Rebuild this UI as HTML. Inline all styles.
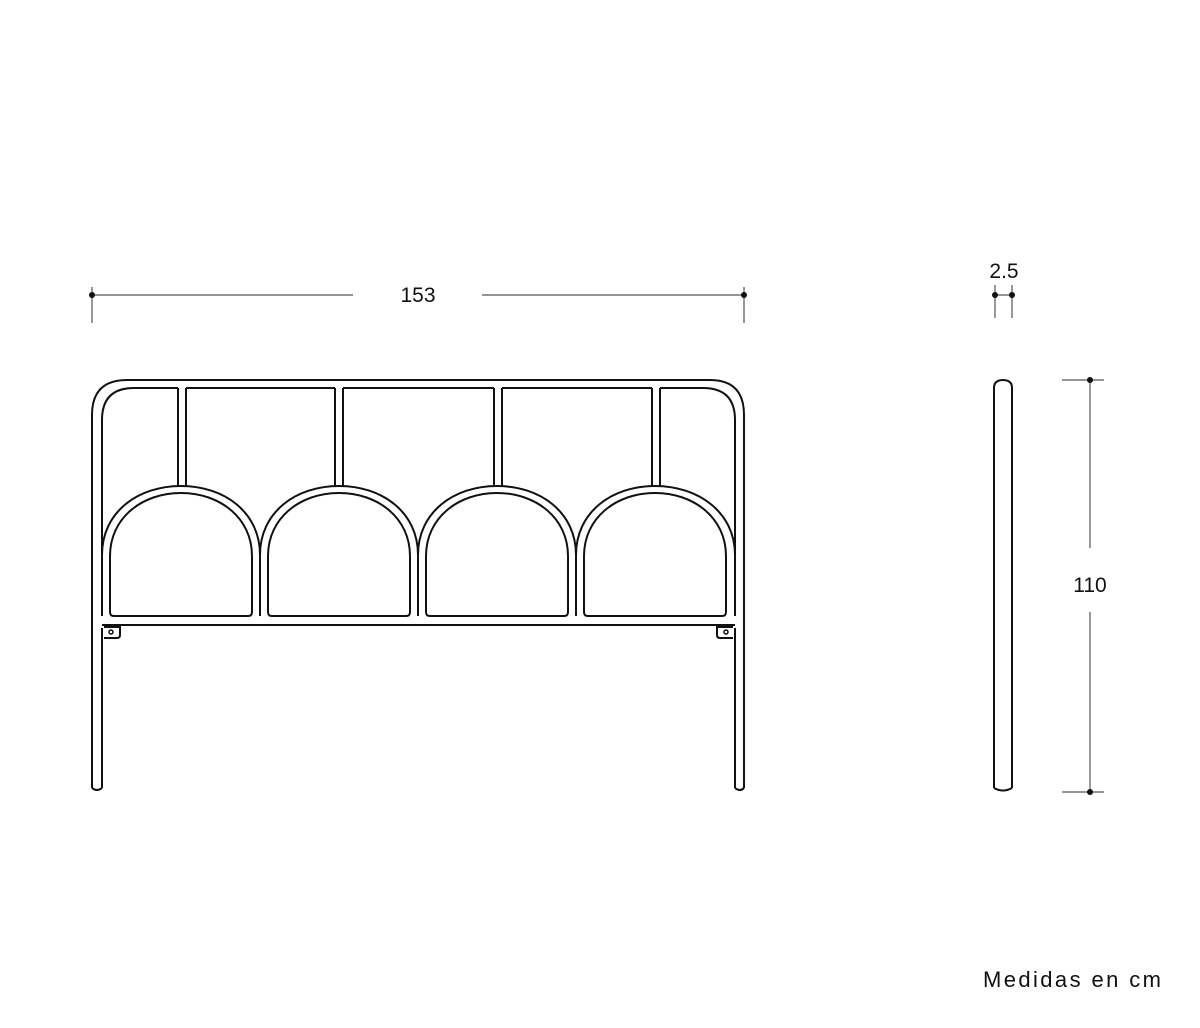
<!DOCTYPE html>
<html><head><style>
html,body{margin:0;padding:0;background:#fff;}
svg{display:block}
text{font-family:"Liberation Sans",sans-serif;fill:#111}
</style></head><body>
<svg width="1200" height="1028" viewBox="0 0 1200 1028" xmlns="http://www.w3.org/2000/svg">
<g fill="none" stroke="#111" stroke-width="2">
<path d="M92,788 L92,415 Q92,380 127,380 L710,380 Q744,380 744,415 L744,788"/>
<path d="M102,616 L102,420 Q102,388 134,388 L178,388"/>
<path d="M186,388 L335,388"/>
<path d="M343,388 L494,388"/>
<path d="M502,388 L652,388"/>
<path d="M660,388 L703,388 Q735,388 735,420 L735,616"/>
<path d="M178,388 L178,487 M186,388 L186,487"/>
<path d="M335,388 L335,487 M343,388 L343,487"/>
<path d="M494,388 L494,487 M502,388 L502,487"/>
<path d="M652,388 L652,487 M660,388 L660,487"/>
<path d="M102,555 C102,512 138,486 181,486 C224,486 260,512 260,555 L260,616"/>
<path d="M260,616 L260,555 C260,512 296,486 339,486 C382,486 418,512 418,555 L418,616"/>
<path d="M418,616 L418,555 C418,512 454,486 497,486 C540,486 576,512 576,555 L576,616"/>
<path d="M576,616 L576,555 C576,512 612,486 655,486 C698,486 735,512 735,555"/>
<path d="M110,612 L110,556 C110,518 142,493 181,493 C220,493 252,518 252,556 L252,612 Q252,616 248,616 L114,616 Q110,616 110,612 Z"/>
<path d="M268,612 L268,556 C268,518 300,493 339,493 C378,493 410,518 410,556 L410,612 Q410,616 406,616 L272,616 Q268,616 268,612 Z"/>
<path d="M426,612 L426,556 C426,518 458,493 497,493 C536,493 568,518 568,556 L568,612 Q568,616 564,616 L430,616 Q426,616 426,612 Z"/>
<path d="M584,612 L584,556 C584,518 616,493 655,493 C694,493 726,518 726,556 L726,612 Q726,616 722,616 L588,616 Q584,616 584,612 Z"/>
<path d="M102,625 L735,625"/>
<path d="M102,628 L102,788"/>
<path d="M735,628 L735,788"/>
<path d="M92,788 Q97,792 102,788"/>
<path d="M735,788 Q740,792 744,788"/>
<path d="M104,627 L120,627 L120,635 Q120,638 117,638 L104,638"/>
<path d="M733,627 L717,627 L717,635 Q717,638 720,638 L733,638"/>
<path d="M994,788 L994,388 Q994,380 1003,380 Q1012,380 1012,388 L1012,788"/>
<path d="M994,788 Q1003,793 1012,788"/>
</g>
<circle cx="111" cy="632" r="2" fill="none" stroke="#111" stroke-width="1.5"/>
<circle cx="726" cy="632" r="2" fill="none" stroke="#111" stroke-width="1.5"/>
<g stroke="#555" stroke-width="1.2" fill="none">
<path d="M92,295 L353,295 M482,295 L744,295 M92,287 L92,323 M744,287 L744,323"/>
<path d="M995,295 L1012,295 M995,285 L995,318 M1012,285 L1012,318"/>
<path d="M1062,380 L1104,380 M1062,792 L1104,792 M1090,380 L1090,548 M1090,612 L1090,792"/>
</g>
<g fill="#111">
<circle cx="92" cy="295" r="3"/><circle cx="744" cy="295" r="3"/>
<circle cx="995" cy="295" r="3"/><circle cx="1012" cy="295" r="3"/>
<circle cx="1090" cy="380" r="3"/><circle cx="1090" cy="792" r="3"/>
</g>
<text x="418" y="302" font-size="21" text-anchor="middle">153</text>
<text x="1004" y="278" font-size="21" text-anchor="middle">2.5</text>
<text x="1090" y="592" font-size="21" text-anchor="middle">110</text>
<text x="983" y="987" font-size="22" textLength="178" lengthAdjust="spacing">Medidas en cm</text>
</svg>
</body></html>
